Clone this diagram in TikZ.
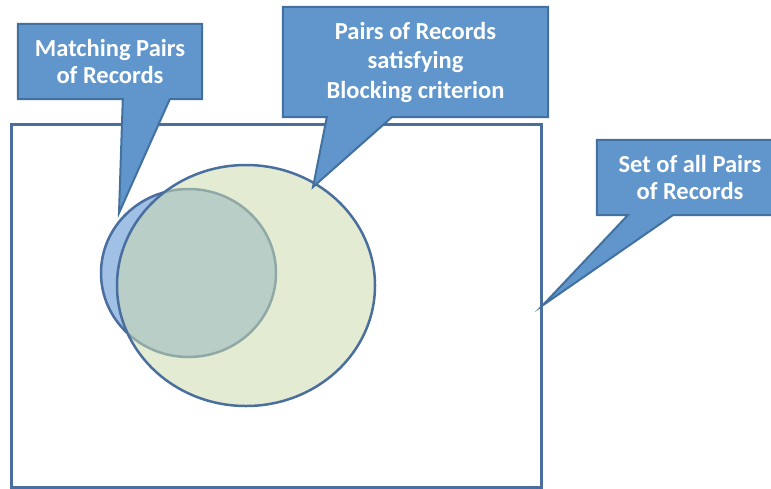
\documentclass[tikz,border=0pt]{standalone}
\usepackage{fontspec}
\setmainfont{Carlito}
\usepackage{tikz}
\usetikzlibrary{shapes.geometric}
\definecolor{callfill}{HTML}{6096CC}
\definecolor{calledge}{HTML}{42709F}
\definecolor{setedge}{HTML}{4A6E9E}
\definecolor{matchfill}{HTML}{A0C0E6}
\definecolor{blockfill}{HTML}{CCDBAD}
\begin{document}
\begin{tikzpicture}[x=1pt,y=-1pt,
  note/.style={fill=callfill,inner sep=0pt,align=center,text=white,font=\fontsize{24.5}{27.5}\selectfont\bfseries},
  noteedge/.style={draw=calledge,line width=2pt,line join=miter},
  setbox/.style={draw=setedge,line width=3pt,inner sep=0pt,minimum width=530pt,minimum height=363pt},
  blob/.style={ellipse,draw=setedge,line width=2.5pt,inner sep=0pt}]
\useasboundingbox (0,0) rectangle (771,488);
\node[setbox] (universe) at (276,305.5) {};
\node[blob,fill=matchfill,minimum width=175pt,minimum height=168pt] (matching) at (188.5,273) {};
\node[blob,draw=none,fill=blockfill,fill opacity=0.55,minimum width=258pt,minimum height=241pt] (blocking) at (246,285.5) {};
\draw[setedge,line width=2.5pt] (blocking.center) ellipse (129pt and 120.5pt);
% callouts
\node[note,minimum width=184pt,minimum height=75pt] (matchnote) at (110,61.5) {Matching Pairs\\of Records};
\node[note,font=\fontsize{24.5}{29.5}\selectfont\bfseries,minimum width=265pt,minimum height=110pt] (blocknote) at (415.5,62) {Pairs of Records\\satisfying\\Blocking criterion};
\node[note,minimum width=186pt,minimum height=75pt] (univnote) at (690,177.5) {Set of all Pairs\\of Records};
\coordinate (matchtip) at (119,213);
\coordinate (blocktip) at (313,187);
\coordinate (univtip) at (universe.east);
\foreach \n/\a/\b in {match/105/152,block/44/109,univ/31/76}{
  \fill[callfill] ([xshift=\a pt]\n note.south west) -- (\n tip) -- ([xshift=\b pt]\n note.south west) -- cycle;
  \draw[noteedge] (\n note.south west) -- (\n note.north west) -- (\n note.north east) -- (\n note.south east)
    -- ([xshift=\b pt]\n note.south west) -- (\n tip) -- ([xshift=\a pt]\n note.south west) -- cycle;
}
\end{tikzpicture}
\end{document}
